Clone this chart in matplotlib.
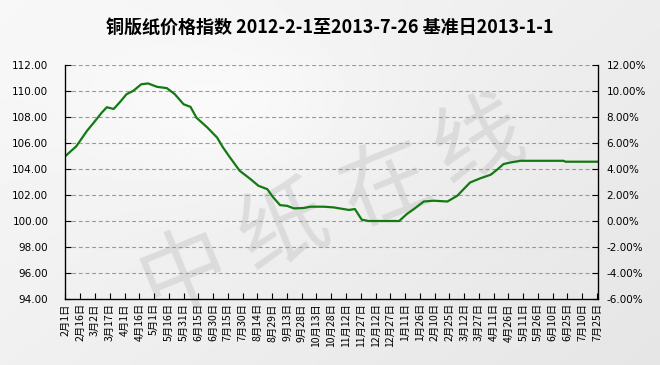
import numpy as np
import pandas as pd
import matplotlib
matplotlib.use("Agg")
import matplotlib.pyplot as plt
from matplotlib.ticker import FixedLocator, FuncFormatter

plt.rcParams['font.family'] = ['Noto Sans CJK SC', 'DejaVu Sans']

# index readings (base 2013-1-1 = 100)
dates = ["2012-02-01", "2012-02-12", "2012-02-23", "2012-02-29", "2012-03-09",
         "2012-03-14", "2012-03-21", "2012-03-27", "2012-04-03", "2012-04-10",
         "2012-04-18", "2012-04-25", "2012-05-04", "2012-05-14", "2012-05-22",
         "2012-05-31", "2012-06-07", "2012-06-13", "2012-06-24", "2012-07-04",
         "2012-07-10", "2012-07-17", "2012-07-27", "2012-08-07", "2012-08-15",
         "2012-08-24", "2012-08-30", "2012-09-06", "2012-09-13", "2012-09-20",
         "2012-09-30", "2012-10-07", "2012-10-20", "2012-10-30", "2012-11-15",
         "2012-11-21", "2012-11-28", "2012-12-05", "2013-01-05", "2013-01-13",
         "2013-01-20", "2013-01-30", "2013-02-09", "2013-02-23", "2013-03-05",
         "2013-03-18", "2013-03-29", "2013-04-08", "2013-04-15", "2013-04-21",
         "2013-04-28", "2013-05-08", "2013-06-21", "2013-06-23", "2013-07-26"]
index = [105.00, 105.75, 106.95, 107.50, 108.35,
         108.75, 108.62, 109.12, 109.75, 110.02,
         110.52, 110.58, 110.32, 110.22, 109.76,
         108.98, 108.78, 107.95, 107.20, 106.42,
         105.66, 104.90, 103.86, 103.22, 102.71,
         102.45, 101.82, 101.22, 101.17, 100.97,
         101.00, 101.10, 101.10, 101.05, 100.85,
         100.92, 100.10, 100.00, 100.00, 100.55,
         100.92, 101.50, 101.56, 101.50, 101.94,
         102.96, 103.30, 103.56, 103.98, 104.38,
         104.50, 104.63, 104.63, 104.56, 104.56]

tick_labels = ["2月1日", "2月16日", "3月2日", "3月17日", "4月1日", "4月16日",
               "5月1日", "5月16日", "5月31日", "6月15日", "6月30日", "7月15日",
               "7月30日", "8月14日", "8月29日", "9月13日", "9月28日", "10月13日",
               "10月28日", "11月12日", "11月27日", "12月12日", "12月27日", "1月11日",
               "1月26日", "2月10日", "2月25日", "3月12日", "3月27日", "4月11日",
               "4月26日", "5月11日", "5月26日", "6月10日", "6月25日", "7月10日",
               "7月25日"]

d = pd.to_datetime(pd.Series(dates))
days = (d - d.iloc[0]).dt.days.values

fig = plt.figure(figsize=(6.6, 3.65), dpi=100)

# light grey backdrop with a soft gradient
bg = fig.add_axes([0, 0, 1, 1], zorder=-10)
yy, xx = np.mgrid[0:1:200j, 0:1:360j]
grad = 0.97 - 0.07 * (0.6 * xx + 0.4 * yy) + 0.03 * np.exp(-((xx - 0.35) ** 2 + (yy - 0.3) ** 2) / 0.05)
bg.imshow(grad, cmap="gray", vmin=0, vmax=1, aspect="auto", extent=[0, 1, 0, 1])
wm = ["中", "纸", "在", "线"]
wm_x = [0.28, 0.43, 0.585, 0.725]
wm_y = [0.25, 0.37, 0.49, 0.61]
for ch, x, y in zip(wm, wm_x, wm_y):
    bg.text(x, y, ch, fontsize=64, color="#c4c4c4", alpha=0.45, rotation=22,
            ha="center", va="center", family="Noto Sans CJK SC")
bg.set_xlim(0, 1)
bg.set_ylim(0, 1)
bg.axis("off")

ax = fig.add_axes([65 / 660, 1 - 299 / 365, 533 / 660, 234 / 365])
ax.patch.set_alpha(0)
ax.plot(days, index, color="#137a13", lw=1.6)

ax.set_xlim(-0.5, 541)
ax.set_ylim(94, 112)
ax.set_yticks(np.arange(94, 113, 2))
ax.yaxis.set_major_formatter(FuncFormatter(lambda v, p: f"{v:.2f}"))
ax.set_xticks(np.arange(0, 541, 15))
ax.set_xticklabels(tick_labels, rotation=90, fontsize=7, va="top")
ax.grid(axis="y", color="#999999", ls=(0, (3.5, 2.5)), lw=0.8)
ax.tick_params(direction="in", length=4, width=0.8, labelsize=7.5, colors="#000000")
ax.tick_params(axis="y", pad=12)
ax.tick_params(axis="x", pad=3)
ax.spines["top"].set_visible(False)
for s in ["left", "bottom", "right"]:
    ax.spines[s].set_linewidth(0.9)
for lbl in ax.get_yticklabels():
    lbl.set_family("DejaVu Sans")

ax2 = ax.twinx()
ax2.set_ylim(-6, 12)
ax2.yaxis.set_major_locator(FixedLocator(np.arange(-6, 13, 2)))
ax2.yaxis.set_major_formatter(FuncFormatter(lambda v, p: f"{v:.2f}%"))
ax2.tick_params(direction="in", length=4, width=0.8, labelsize=7.5, pad=6)
ax2.spines["top"].set_visible(False)
for lbl in ax2.get_yticklabels():
    lbl.set_family("DejaVu Sans")

fig.text(0.5, 1 - 27 / 365, "铜版纸价格指数 2012-2-1至2013-7-26 基准日2013-1-1",
         ha="center", va="center", fontsize=13, fontweight="bold")

fig.savefig("out.png", dpi=100)
